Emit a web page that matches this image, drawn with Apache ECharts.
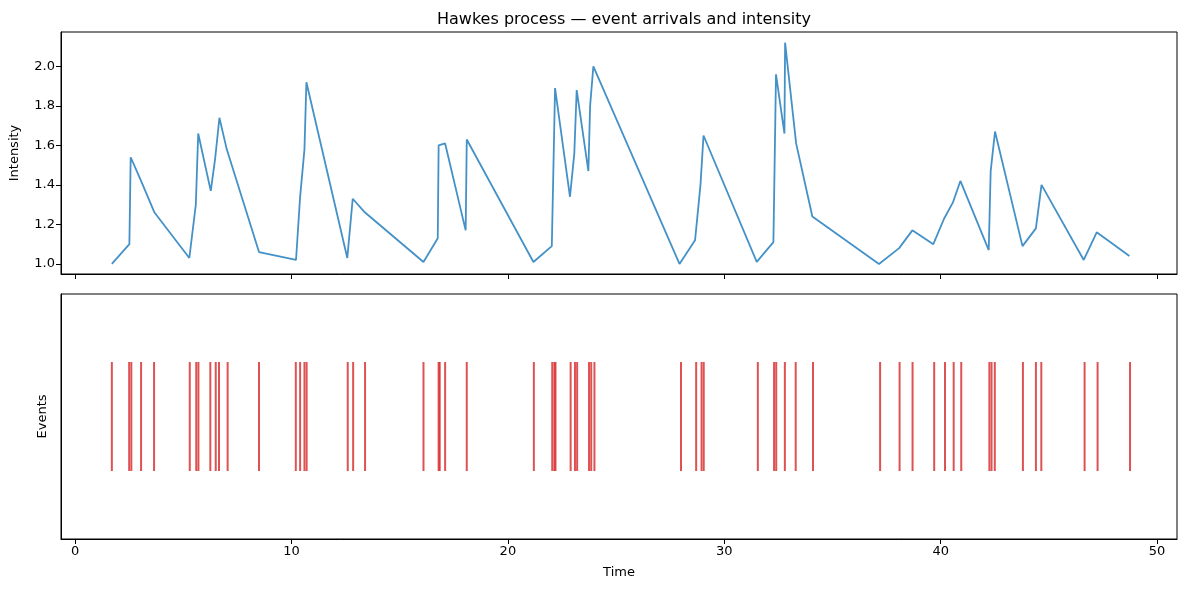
<!DOCTYPE html>
<html>
<head>
<meta charset="utf-8">
<script src="https://cdn.jsdelivr.net/npm/echarts@6/dist/echarts.min.js"></script>
<style>html,body{margin:0;padding:0;background:#fff}#charts{width:1189px;height:590px}</style>
</head>
<body>
<div id="charts"></div>
<script>
// 强度曲线（事件处取样）
var intensity = [
    [1.70, 1.00], [2.51, 1.10], [2.57, 1.54], [3.05, 1.42], [3.67, 1.26], [5.28, 1.03],
    [5.58, 1.30], [5.69, 1.66], [6.27, 1.37], [6.47, 1.53], [6.67, 1.74], [7.01, 1.58],
    [8.50, 1.06], [10.21, 1.02], [10.40, 1.34], [10.60, 1.58], [10.69, 1.92], [12.58, 1.03],
    [12.83, 1.33], [13.40, 1.26], [16.10, 1.01], [16.76, 1.13], [16.80, 1.60], [17.10, 1.61],
    [18.05, 1.17], [18.10, 1.63], [21.18, 1.01], [22.03, 1.09], [22.18, 1.89], [22.87, 1.34],
    [23.07, 1.56], [23.18, 1.88], [23.72, 1.47], [23.80, 1.80], [23.95, 2.00], [27.93, 1.00],
    [28.65, 1.12], [28.90, 1.40], [29.04, 1.65], [31.50, 1.01], [32.27, 1.11], [32.39, 1.96],
    [32.78, 1.66], [32.81, 2.12], [33.32, 1.61], [34.07, 1.24], [37.15, 1.00], [38.08, 1.08],
    [38.69, 1.17], [39.66, 1.10], [40.16, 1.23], [40.56, 1.31], [40.91, 1.42], [42.22, 1.07],
    [42.31, 1.47], [42.51, 1.67], [43.78, 1.09], [44.40, 1.18], [44.66, 1.40], [46.61, 1.02],
    [47.21, 1.16], [48.72, 1.04]
];
// 事件时间
var events = [1.7, 2.5, 2.6, 3.05, 3.65, 5.3, 5.6, 5.7, 6.25, 6.5, 6.65, 7.05, 8.5, 10.2, 10.4,
    10.6, 10.7, 12.6, 12.85, 13.4, 16.1, 16.8, 16.85, 17.1, 18.1, 21.2, 22.05, 22.15, 22.2, 22.9,
    23.1, 23.2, 23.75, 23.85, 24.0, 28.0, 28.7, 28.95, 29.05, 31.55, 32.3, 32.4, 32.8, 33.3, 34.1,
    37.2, 38.1, 38.7, 39.7, 40.2, 40.6, 40.95, 42.25, 42.35, 42.5, 43.8, 44.4, 44.65, 46.65,
    47.25, 48.75];

var font = 'DejaVu Sans';
var xTicks = [0, 10, 20, 30, 40, 50];
var yTicks = [1.0, 1.2, 1.4, 1.6, 1.8, 2.0];
var axisLine = {show: true, onZero: false, lineStyle: {color: '#000', width: 1}};
var myChart = echarts.init(document.getElementById('charts'));
var option = {
    animation: false,
    textStyle: {fontFamily: font},
    title: {
        text: 'Hawkes process — event arrivals and intensity',
        left: 619, top: 7, textAlign: 'center',
        textStyle: {fontSize: 16, fontWeight: 'normal', color: '#000', fontFamily: font}
    },
    grid: [
        {left: 61, width: 1116, top: 32, height: 242, show: true, borderColor: '#000', borderWidth: 1},
        {left: 61, width: 1116, top: 294, height: 245, show: true, borderColor: '#000', borderWidth: 1}
    ],
    xAxis: [
        {gridIndex: 0, type: 'value', min: -0.65, max: 50.92,
            axisLine: axisLine,
            axisTick: {show: true, length: 5, lineStyle: {color: '#000'}, customValues: xTicks},
            axisLabel: {show: false, customValues: xTicks}, splitLine: {show: false}},
        {gridIndex: 1, type: 'value', min: -0.65, max: 50.92,
            axisLine: axisLine,
            axisTick: {show: true, length: 5, lineStyle: {color: '#000'}, customValues: xTicks},
            axisLabel: {color: '#000', fontSize: 13, margin: 6, customValues: xTicks},
            splitLine: {show: false},
            name: 'Time', nameLocation: 'middle', nameGap: 27,
            nameTextStyle: {color: '#000', fontSize: 13}}
    ],
    yAxis: [
        {gridIndex: 0, type: 'value', min: 0.949, max: 2.174,
            axisLine: axisLine,
            axisTick: {show: true, length: 5, lineStyle: {color: '#000'}, customValues: yTicks},
            axisLabel: {color: '#000', fontSize: 13, margin: 6, customValues: yTicks,
                formatter: function (v) { return v.toFixed(1); }},
            splitLine: {show: false},
            name: 'Intensity', nameLocation: 'middle', nameGap: 40,
            nameTextStyle: {color: '#000', fontSize: 13}},
        {gridIndex: 1, type: 'value', min: -1, max: 1,
            axisLine: axisLine, axisTick: {show: false}, axisLabel: {show: false},
            splitLine: {show: false},
            name: 'Events', nameLocation: 'middle', nameGap: 12,
            nameTextStyle: {color: '#000', fontSize: 13}}
    ],
    series: [
        {
            type: 'line', xAxisIndex: 0, yAxisIndex: 0,
            data: intensity, showSymbol: false,
            lineStyle: {color: '#3a8bc4', width: 1.8, opacity: 0.95}
        },
        {
            type: 'scatter', xAxisIndex: 1, yAxisIndex: 1,
            data: events.map(function (t) { return [t, 0]; }),
            symbol: 'rect', symbolSize: [2, 109],
            itemStyle: {color: '#d62728'}
        }
    ]
};
myChart.setOption(option);
</script>
</body>
</html>
